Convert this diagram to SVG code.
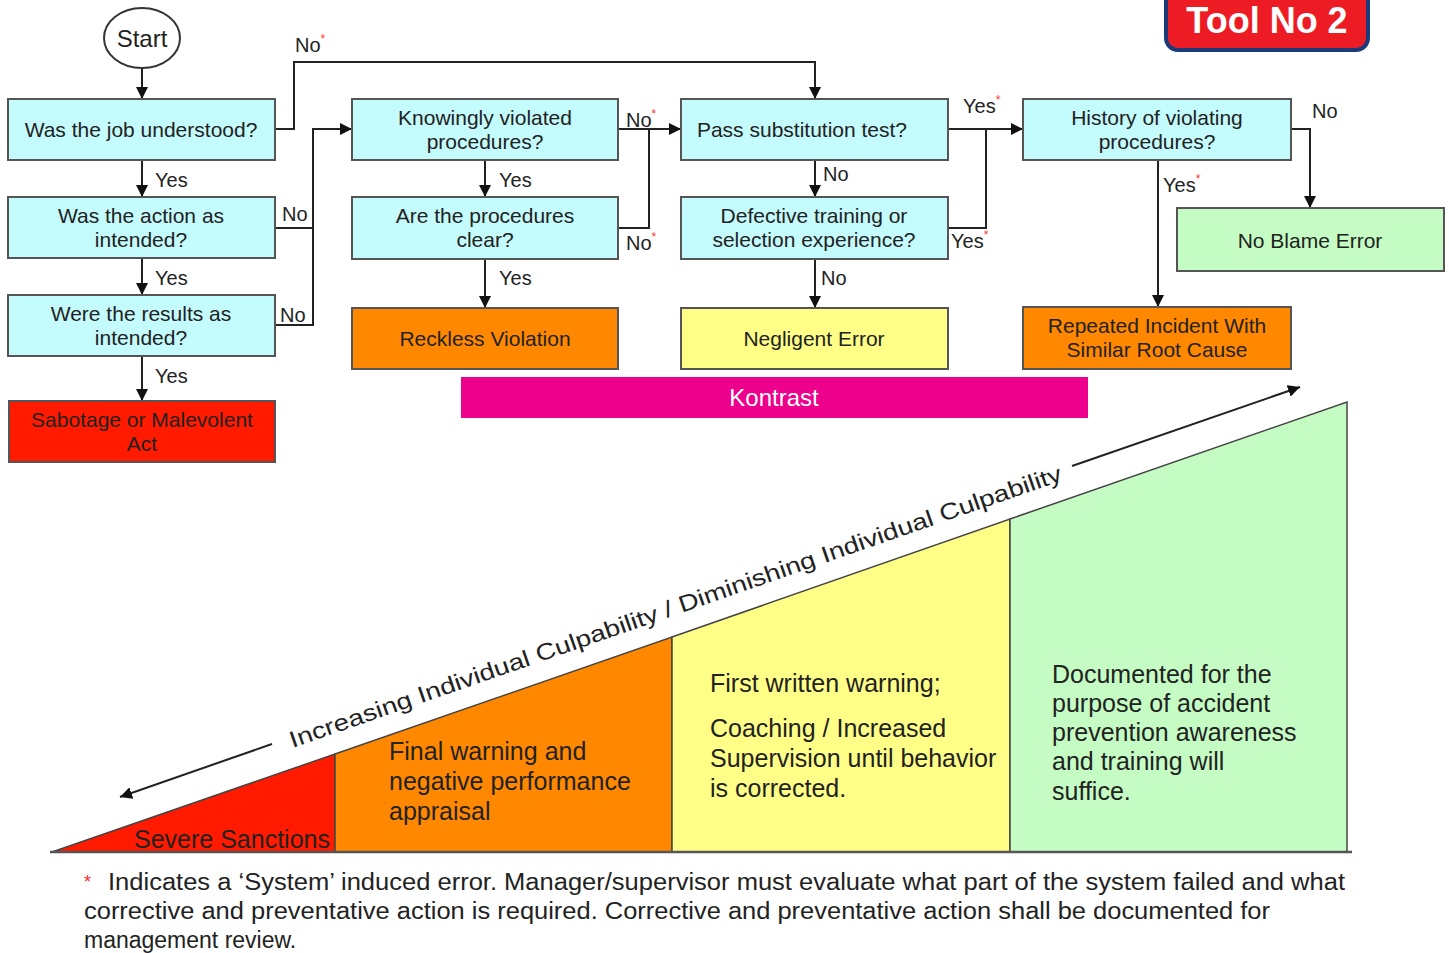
<svg xmlns="http://www.w3.org/2000/svg" width="1449" height="953" viewBox="0 0 1449 953">
<defs>
<marker id="ah" markerUnits="userSpaceOnUse" markerWidth="12" markerHeight="12" refX="12" refY="6" orient="auto">
<path d="M0,0 L12,6 L0,12 Z" fill="#111"/>
</marker>
<style>
.box{stroke:#555;stroke-width:2}
.q{fill:#c4fbfd}
.t{font-family:"Liberation Sans",Arial,sans-serif;font-size:21px;fill:#222;text-anchor:middle}
.l{font-family:"Liberation Sans",Arial,sans-serif;font-size:20px;fill:#222}
.ast{fill:#ff3333;font-size:12px}
.c{fill:none;stroke:#222;stroke-width:2}
.b{font-family:"Liberation Sans",Arial,sans-serif;font-size:25px;fill:#222}
</style>
</defs>
<rect width="1449" height="953" fill="#fff"/>

<g id="tool">
<rect x="1166" y="-12" width="202" height="62" rx="12" fill="#ed1c24" stroke="#1a3a7a" stroke-width="4"/>
<text x="1267" y="33" font-family="Liberation Sans,Arial,sans-serif" font-weight="bold" font-size="36" fill="#fff" text-anchor="middle">Tool No 2</text>
</g>

<g id="connectors">
<path class="c" d="M142 69 V99" marker-end="url(#ah)"/>
<path class="c" d="M142 160 V197" marker-end="url(#ah)"/>
<path class="c" d="M142 258 V295" marker-end="url(#ah)"/>
<path class="c" d="M142 356 V401" marker-end="url(#ah)"/>
<path class="c" d="M275 129 H294 V62 H815 V99" marker-end="url(#ah)"/>
<path class="c" d="M275 228 H313"/>
<path class="c" d="M275 325 H313 V129 H352" marker-end="url(#ah)"/>
<path class="c" d="M485 160 V197" marker-end="url(#ah)"/>
<path class="c" d="M485 259 V308" marker-end="url(#ah)"/>
<path class="c" d="M618 129 H681" marker-end="url(#ah)"/>
<path class="c" d="M618 228 H649 V129"/>
<path class="c" d="M815 160 V197" marker-end="url(#ah)"/>
<path class="c" d="M815 259 V308" marker-end="url(#ah)"/>
<path class="c" d="M948 129 H1023" marker-end="url(#ah)"/>
<path class="c" d="M948 228 H986 V129"/>
<path class="c" d="M1291 129 H1310 V208" marker-end="url(#ah)"/>
<path class="c" d="M1158 160 V307" marker-end="url(#ah)"/>
<text class="l" x="155" y="187">Yes</text>
<text class="l" x="155" y="285">Yes</text>
<text class="l" x="155" y="383">Yes</text>
<text class="l" x="295" y="52">No<tspan class="ast" dy="-9">*</tspan></text>
<text class="l" x="282" y="221">No</text>
<text class="l" x="280" y="322">No</text>
<text class="l" x="499" y="187">Yes</text>
<text class="l" x="499" y="285">Yes</text>
<text class="l" x="626" y="127">No<tspan class="ast" dy="-9">*</tspan></text>
<text class="l" x="626" y="250">No<tspan class="ast" dy="-9">*</tspan></text>
<text class="l" x="823" y="181">No</text>
<text class="l" x="821" y="285">No</text>
<text class="l" x="963" y="113">Yes<tspan class="ast" dy="-9">*</tspan></text>
<text class="l" x="951" y="248">Yes<tspan class="ast" dy="-9">*</tspan></text>
<text class="l" x="1312" y="118">No</text>
<text class="l" x="1163" y="192">Yes<tspan class="ast" dy="-9">*</tspan></text>
</g>

<g id="start">
<ellipse cx="142" cy="38" rx="38" ry="30" fill="#fff" stroke="#333" stroke-width="2"/>
<text class="t" x="142" y="47" style="font-size:24px">Start</text>
</g>
<g id="job">
<rect class="box q" x="8" y="99" width="267" height="61"/>
<text class="t" x="141" y="137">Was the job understood?</text>
</g>
<g id="action">
<rect class="box q" x="8" y="197" width="267" height="61"/>
<text class="t" x="141" y="223">Was the action as</text>
<text class="t" x="141" y="247">intended?</text>
</g>
<g id="results">
<rect class="box q" x="8" y="295" width="267" height="61"/>
<text class="t" x="141" y="321">Were the results as</text>
<text class="t" x="141" y="345">intended?</text>
</g>
<g id="sabotage">
<rect class="box" x="9" y="401" width="266" height="61" fill="#ff1a00"/>
<text class="t" x="142" y="427">Sabotage or Malevolent</text>
<text class="t" x="142" y="451">Act</text>
</g>
<g id="knowingly">
<rect class="box q" x="352" y="99" width="266" height="61"/>
<text class="t" x="485" y="125">Knowingly violated</text>
<text class="t" x="485" y="149">procedures?</text>
</g>
<g id="clear">
<rect class="box q" x="352" y="197" width="266" height="62"/>
<text class="t" x="485" y="223">Are the procedures</text>
<text class="t" x="485" y="247">clear?</text>
</g>
<g id="reckless">
<rect class="box" x="352" y="308" width="266" height="61" fill="#ff8800"/>
<text class="t" x="485" y="346">Reckless Violation</text>
</g>
<g id="pass">
<rect class="box q" x="681" y="99" width="267" height="61"/>
<text class="t" x="802" y="137">Pass substitution test?</text>
</g>
<g id="defective">
<rect class="box q" x="681" y="197" width="267" height="62"/>
<text class="t" x="814" y="223">Defective training or</text>
<text class="t" x="814" y="247">selection experience?</text>
</g>
<g id="negligent">
<rect class="box" x="681" y="308" width="267" height="61" fill="#ffff88"/>
<text class="t" x="814" y="346">Negligent Error</text>
</g>
<g id="history">
<rect class="box q" x="1023" y="99" width="268" height="61"/>
<text class="t" x="1157" y="125">History of violating</text>
<text class="t" x="1157" y="149">procedures?</text>
</g>
<g id="noblame">
<rect class="box" x="1177" y="208" width="267" height="63" fill="#c4fcc4"/>
<text class="t" x="1310" y="248">No Blame Error</text>
</g>
<g id="repeated">
<rect class="box" x="1023" y="307" width="268" height="62" fill="#ff8800"/>
<text class="t" x="1157" y="333">Repeated Incident With</text>
<text class="t" x="1157" y="357">Similar Root Cause</text>
</g>

<g id="kontrast">
<rect x="461" y="377" width="627" height="41" fill="#ec008c"/>
<text x="774" y="406" font-family="Liberation Sans,Arial,sans-serif" font-size="24" fill="#fff" text-anchor="middle">Kontrast</text>
</g>

<g id="triangle">
<polygon points="52,852 335,754 335,852" fill="#ff1a00" stroke="#444" stroke-width="1.5"/>
<polygon points="335,754 672,637 672,852 335,852" fill="#ff8800" stroke="#444" stroke-width="1.5"/>
<polygon points="672,637 1010,519 1010,852 672,852" fill="#ffff88" stroke="#444" stroke-width="1.5"/>
<polygon points="1010,519 1347,402 1347,852 1010,852" fill="#c4fcc4" stroke="#444" stroke-width="1.5"/>
<line x1="50" y1="852" x2="1352" y2="852" stroke="#555" stroke-width="2.5"/>
<text class="b" x="134" y="848" textLength="196" lengthAdjust="spacingAndGlyphs">Severe Sanctions</text>
<text class="b" x="389" y="760">Final warning and</text>
<text class="b" x="389" y="790">negative performance</text>
<text class="b" x="389" y="820">appraisal</text>
<text class="b" x="710" y="692">First written warning;</text>
<text class="b" x="710" y="737">Coaching / Increased</text>
<text class="b" x="710" y="767">Supervision until behavior</text>
<text class="b" x="710" y="797">is corrected.</text>
<text class="b" x="1052" y="683">Documented for the</text>
<text class="b" x="1052" y="712">purpose of accident</text>
<text class="b" x="1052" y="741">prevention awareness</text>
<text class="b" x="1052" y="770">and training will</text>
<text class="b" x="1052" y="800">suffice.</text>
<line x1="1072" y1="466" x2="1300" y2="387" stroke="#222" stroke-width="2" marker-end="url(#ah)"/>
<line x1="272" y1="744" x2="120" y2="797" stroke="#222" stroke-width="2" marker-end="url(#ah)"/>
<text x="678" y="614" transform="rotate(-19.16 678 614)" font-family="Liberation Sans,Arial,sans-serif" font-size="23" fill="#222" text-anchor="middle" textLength="816" lengthAdjust="spacingAndGlyphs">Increasing Individual Culpability / Diminishing Individual Culpability</text>
</g>

<g id="footnote" font-family="Liberation Sans,Arial,sans-serif" font-size="23" fill="#222">
<text x="84" y="888" fill="#ff2222" font-size="18">*</text>
<text x="108" y="890" textLength="1237" lengthAdjust="spacingAndGlyphs">Indicates a ‘System’ induced error.  Manager/supervisor must evaluate what part of the system failed and what</text>
<text x="84" y="919" textLength="1186" lengthAdjust="spacingAndGlyphs">corrective and preventative action is required.  Corrective and preventative action shall be documented for</text>
<text x="84" y="948">management review.</text>
</g>
</svg>
